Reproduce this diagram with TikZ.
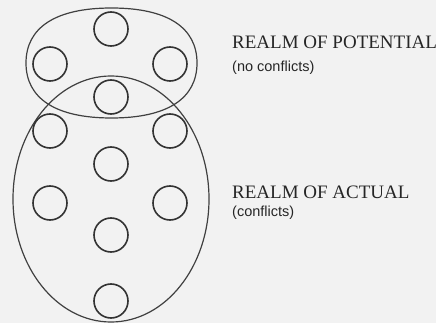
\documentclass[tikz,border=0pt]{standalone}
\usepackage{fontspec}
\setmainfont{Liberation Serif}
\newfontfamily\subfont{Liberation Sans}
\begin{document}
\begin{tikzpicture}[x=1pt,y=-1pt,
  dot/.style={circle,draw=black!80,line width=1.6pt,minimum size=34pt,inner sep=0pt},
  realm/.style={draw=black!75,line width=1.2pt},
  lab/.style={anchor=west,inner sep=0pt,text=black!85,font=\fontsize{19}{22}\selectfont},
  sub/.style={anchor=west,inner sep=0pt,text=black!85,font=\subfont\fontsize{14.5}{17}\selectfont}]
\fill[black!5] (0,0) rectangle (436,323);
\useasboundingbox (0,0) rectangle (436,323);
% realm of potential
\draw[realm] (197,63) .. controls (197,98.75) and (167.1,118) .. (111.5,118)
  .. controls (55.9,118) and (26,98.75) .. (26,63)
  .. controls (26,27.25) and (55.9,8) .. (111.5,8)
  .. controls (167.1,8) and (197,27.25) .. (197,63) -- cycle;
% realm of actual
\draw[realm] (111,199) ellipse [x radius=98,y radius=123];
\node[dot] (c1) at (111,29) {};
\node[dot] (c2) at (50,64) {};
\node[dot] (c3) at (170,64) {};
\node[dot] (c4) at (111,97) {};
\node[dot] (c5) at (50,131) {};
\node[dot] (c6) at (170,131) {};
\node[dot] (c7) at (111,164) {};
\node[dot] (c8) at (50,203) {};
\node[dot] (c9) at (170,203) {};
\node[dot] (c10) at (111,235) {};
\node[dot] (c11) at (111,301) {};
\node[lab] (p) at (232,42) {REALM OF POTENTIAL};
\node[sub] (pn) at (232,68) {(no conflicts)};
\node[lab] (a) at (232,192) {REALM OF ACTUAL};
\node[sub] (an) at (232,213) {(conflicts)};
\end{tikzpicture}
\end{document}
